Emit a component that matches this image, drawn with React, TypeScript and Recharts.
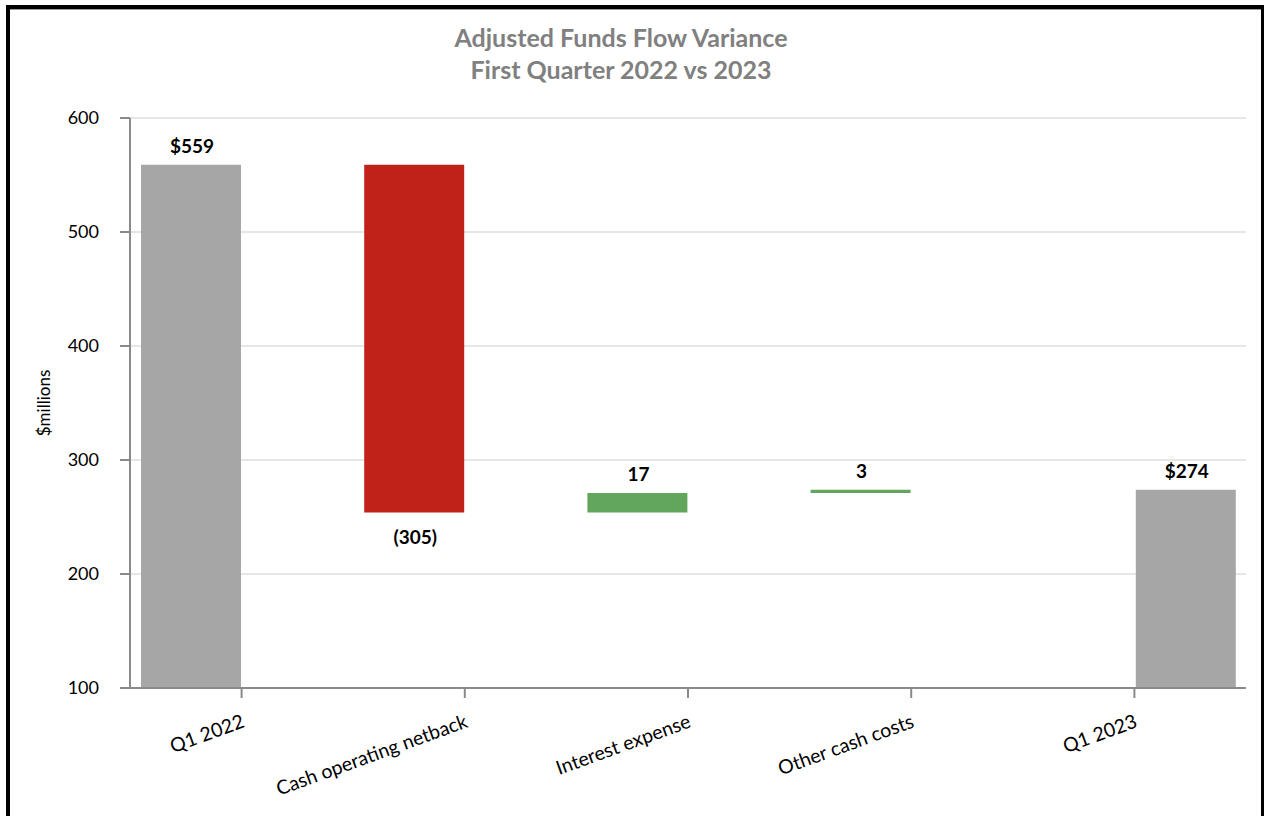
import React from "react";
import { BarChart, Bar, XAxis, YAxis, CartesianGrid, Cell, LabelList } from "recharts";

const categories = ["Q1 2022", "Cash operating netback", "Interest expense", "Other cash costs", "Q1 2023"];
const stepLow = [100, 254, 254, 271, null];
const stepHigh = [559, 559, 271, 274, null];
const endLow = [null, null, null, null, 100];
const endHigh = [null, null, null, null, 274];
const valueLabels = ["$559", "(305)", "17", "3", "$274"];
const labelBelow = [false, true, false, false, false];
const barColors = ["#a6a6a6", "#c0221a", "#62a55c", "#62a55c", "#a6a6a6"];
const yTicks = [100, 200, 300, 400, 500, 600];

const data = categories.map((name, i) => ({
  name,
  step: stepLow[i] === null ? null : [stepLow[i], stepHigh[i]],
  end: endLow[i] === null ? null : [endLow[i], endHigh[i]],
  stepLabel: stepLow[i] === null ? null : valueLabels[i],
  endLabel: endLow[i] === null ? null : valueLabels[i],
}));

const FONT = "Lato, 'Open Sans', sans-serif";

const renderLabel = (props: any) => {
  const { x, y, width, height, value } = props;
  if (x == null || width == null || value == null) return null;
  const idx = valueLabels.indexOf(String(value));
  const top = Math.min(y, y + height);
  const bottom = Math.max(y, y + height);
  const below = labelBelow[idx];
  return (
    <text
      x={x + width / 2 + 1}
      y={below ? bottom + 32 : top - 12}
      textAnchor="middle"
      fontFamily={FONT}
      fontWeight={700}
      fontSize={19}
      fill="#000"
    >
      {value}
    </text>
  );
};

const XTick = (props: any) => {
  const { x, y, payload } = props;
  return (
    <g transform={`translate(${x - 1},${y + 13})`}>
      <text
        x={0}
        y={0}
        dy="0.75em"
        textAnchor="end"
        transform="rotate(-20)"
        fontFamily={FONT}
        fontSize={19.5}
        fill="#000"
      >
        {payload.value}
      </text>
    </g>
  );
};

export default function App() {
  return (
    <div style={{ position: "absolute", left: 0, top: 0, width: 1264, height: 816, background: "#fff", overflow: "hidden" }}>
      <div
        style={{
          position: "absolute",
          left: 6,
          top: 5,
          width: 1258,
          height: 830,
          boxSizing: "border-box",
          borderLeft: "4px solid #000",
          borderTop: "4px solid #000",
          borderRight: "3px solid #000",
        }}
      />
      <div
        style={{
          position: "absolute",
          left: 10,
          top: 9,
          width: 1251,
          height: 1,
          background: "#9a9a9a",
        }}
      />
      <div
        style={{
          position: "absolute",
          left: 371,
          top: 21,
          width: 500,
          textAlign: "center",
          fontFamily: FONT,
          fontWeight: 700,
          fontSize: 25,
          lineHeight: "32px",
          color: "#808080",
        }}
      >
        <div>Adjusted Funds Flow Variance</div>
        <div>First Quarter 2022 vs 2023</div>
      </div>
      <div style={{ position: "absolute", left: 0, top: 0 }}>
        <BarChart
          width={1264}
          height={816}
          data={data}
          margin={{ top: 118, right: 18, bottom: 28, left: 50 }}
          barSize={100}
          barGap={2}
        >
          <CartesianGrid vertical={false} stroke="#dedede" strokeWidth={1.5} />
          <XAxis
            dataKey="name"
            tick={<XTick />}
            tickSize={10}
            interval={0}
            height={100}
            axisLine={{ stroke: "#8a8a8a", strokeWidth: 2 }}
            tickLine={{ stroke: "#8a8a8a", strokeWidth: 2 }}
          />
          <YAxis
            domain={[100, 600]}
            ticks={yTicks}
            width={80}
            tickSize={10}
            tickMargin={21}
            allowDataOverflow
            axisLine={{ stroke: "#8a8a8a", strokeWidth: 2 }}
            tickLine={{ stroke: "#8a8a8a", strokeWidth: 2 }}
            tick={{ fontFamily: FONT, fontSize: 18, fill: "#000" }}
            label={{
              value: "$millions",
              angle: -90,
              position: "insideLeft",
              offset: -6,
              style: { fontFamily: FONT, fontSize: 17, fill: "#000", textAnchor: "middle" },
            }}
          />
          <Bar dataKey="step" isAnimationActive={false}>
            {data.map((d, i) => (
              <Cell key={i} fill={barColors[i]} />
            ))}
            <LabelList dataKey="stepLabel" content={renderLabel} />
          </Bar>
          <Bar dataKey="end" isAnimationActive={false}>
            {data.map((d, i) => (
              <Cell key={i} fill={barColors[i]} />
            ))}
            <LabelList dataKey="endLabel" content={renderLabel} />
          </Bar>
        </BarChart>
      </div>
    </div>
  );
}
